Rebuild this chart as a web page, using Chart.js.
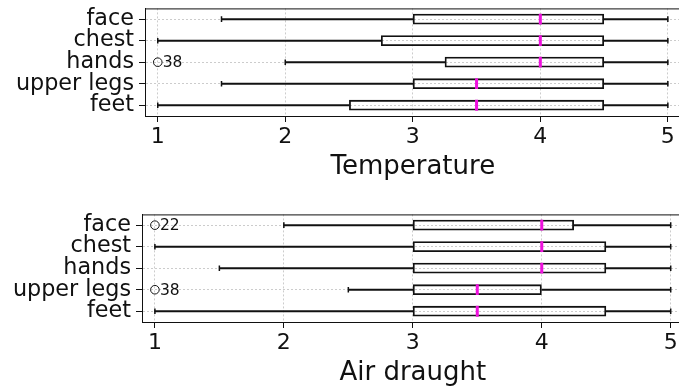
<!DOCTYPE html>
<html>
<head>
<meta charset="utf-8">
<script src="https://cdn.jsdelivr.net/npm/chart.js@4/dist/chart.umd.min.js"></script>
<style>
  html, body { margin: 0; padding: 0; background: #fff; overflow: hidden; width: 679px; height: 388px; }
  .box { position: absolute; left: 0; height: 183px; }
  #top { top: 0; width: 689px; }
  #bottom { top: 206px; width: 692px; }
</style>
</head>
<body>
<div class="box" id="top"><canvas id="tempChart"></canvas></div>
<div class="box" id="bottom"><canvas id="airChart"></canvas></div>
<script>
// body parts, top to bottom as in the figure
const bodyParts = ['face', 'chest', 'hands', 'upper legs', 'feet'];
const xTicks = [1, 2, 3, 4, 5];

// Temperature
const tempMin = [1.5, 1, 2, 1.5, 1];
const tempQ1 = [3, 2.75, 3.25, 3, 2.5];
const tempMedian = [4, 4, 4, 3.5, 3.5];
const tempQ3 = [4.5, 4.5, 4.5, 4.5, 4.5];
const tempMax = [5, 5, 5, 5, 5];
const tempOutliers = [{ part: 'hands', value: 1, label: '38' }];

// Air draught
const airMin = [2, 1, 1.5, 2.5, 1];
const airQ1 = [3, 3, 3, 3, 3];
const airMedian = [4, 4, 4, 3.5, 3.5];
const airQ3 = [4.25, 4.5, 4.5, 4, 4.5];
const airMax = [5, 5, 5, 5, 5];
const airOutliers = [{ part: 'face', value: 1, label: '22' }, { part: 'upper legs', value: 1, label: '38' }];

const FONT = "'DejaVu Sans', sans-serif";
const gridColor = 'rgba(0,0,0,0.2)';

// draws the top/right spines so the plot gets a full frame
const framePlugin = {
    id: 'frame',
    afterDraw(chart) {
        const { ctx, chartArea: a } = chart;
        ctx.save();
        ctx.strokeStyle = '#111';
        ctx.lineWidth = 1;
        ctx.strokeRect(a.left + 0.5, a.top + 0.5, a.right - a.left, a.bottom - a.top);
        ctx.restore();
    }
};

// writes the respondent number next to each outlier circle
const outlierLabelPlugin = {
    id: 'outlierLabels',
    afterDatasetsDraw(chart) {
        const ctx = chart.ctx;
        chart.data.datasets.forEach((ds, i) => {
            if (!ds.outlierLabels) return;
            const meta = chart.getDatasetMeta(i);
            ctx.save();
            ctx.fillStyle = '#111';
            ctx.font = '15.5px ' + FONT;
            ctx.textAlign = 'left';
            ctx.textBaseline = 'middle';
            meta.data.forEach((pt, j) => {
                ctx.fillText(ds.outlierLabels[j], pt.x + 5, pt.y + 1);
            });
            ctx.restore();
        });
    }
};

function makeBoxChart(canvasId, title, mins, q1s, medians, q3s, maxs, outliers, yWidth) {
    const lowWhisker = bodyParts.map((p, i) => [mins[i], q1s[i]]);
    const highWhisker = bodyParts.map((p, i) => [q3s[i], maxs[i]]);
    const boxes = bodyParts.map((p, i) => [q1s[i], q3s[i]]);
    const caps = [];
    bodyParts.forEach((p, i) => {
        caps.push({ x: mins[i], y: p });
        caps.push({ x: maxs[i], y: p });
    });
    const medianPts = bodyParts.map((p, i) => ({ x: medians[i], y: p }));
    const outlierPts = outliers.map(o => ({ x: o.value, y: o.part }));

    const whiskerStyle = { type: 'bar', grouped: false, barThickness: 1.3, backgroundColor: '#111', borderWidth: 0, order: 4 };

    return new Chart(document.getElementById(canvasId).getContext('2d'), {
        type: 'bar',
        data: {
            labels: bodyParts,
            datasets: [
                Object.assign({ label: 'low whisker', data: lowWhisker }, whiskerStyle),
                Object.assign({ label: 'high whisker', data: highWhisker }, whiskerStyle),
                { type: 'bar', label: 'box', data: boxes, grouped: false, barPercentage: 0.5, categoryPercentage: 1,
                  backgroundColor: 'rgba(0,0,0,0)', borderColor: '#111', borderWidth: 1.8, borderSkipped: false, order: 3 },
                { type: 'scatter', label: 'caps', data: caps, pointStyle: 'line', rotation: 90, radius: 2.8,
                  borderColor: '#111', borderWidth: 1.5, order: 2 },
                { type: 'scatter', label: 'median', data: medianPts, pointStyle: 'line', rotation: 90, radius: 5.4,
                  borderColor: '#ee11dd', borderWidth: 3, order: 1 },
                { type: 'scatter', label: 'outliers', data: outlierPts, pointStyle: 'circle', radius: 4.3,
                  borderColor: '#111', borderWidth: 1, backgroundColor: 'rgba(0,0,0,0)', order: 0,
                  outlierLabels: outliers.map(o => o.label) }
            ]
        },
        options: {
            indexAxis: 'y',
            responsive: true,
            maintainAspectRatio: false,
            animation: false,
            events: [],
            layout: { padding: { top: 8, left: 0, right: 0, bottom: 0 } },
            plugins: { legend: { display: false }, tooltip: { enabled: false } },
            scales: {
                x: {
                    type: 'linear',
                    min: 0.9,
                    max: 5.1,
                    afterBuildTicks: s => { s.ticks = xTicks.map(v => ({ value: v })); },
                    afterFit: s => { s.height = 67; s.paddingLeft = 0; s.paddingRight = 0; },
                    grid: { color: gridColor, lineWidth: 1, tickColor: '#111', tickLength: 6, tickWidth: 1 },
                    border: { display: true, color: '#111', width: 1, dash: [2, 2] },
                    ticks: { color: '#111', font: { family: FONT, size: 22 }, padding: 2, maxRotation: 0 },
                    title: { display: true, text: title, color: '#111', font: { family: FONT, size: 26 }, padding: 0 }
                },
                y: {
                    type: 'category',
                    afterFit: s => { s.width = yWidth; s.paddingTop = 0; s.paddingBottom = 0; },
                    grid: { offset: false, color: gridColor, lineWidth: 1, tickColor: '#111', tickLength: 6, tickWidth: 1 },
                    border: { display: true, color: '#111', width: 1, dash: [2, 2] },
                    ticks: { color: '#111', font: { family: FONT, size: 22.3 }, padding: 5, autoSkip: false }
                }
            }
        },
        plugins: [framePlugin, outlierLabelPlugin]
    });
}

makeBoxChart('tempChart', 'Temperature', tempMin, tempQ1, tempMedian, tempQ3, tempMax, tempOutliers, 145);
makeBoxChart('airChart', 'Air draught', airMin, airQ1, airMedian, airQ3, airMax, airOutliers, 142);
</script>
</body>
</html>
